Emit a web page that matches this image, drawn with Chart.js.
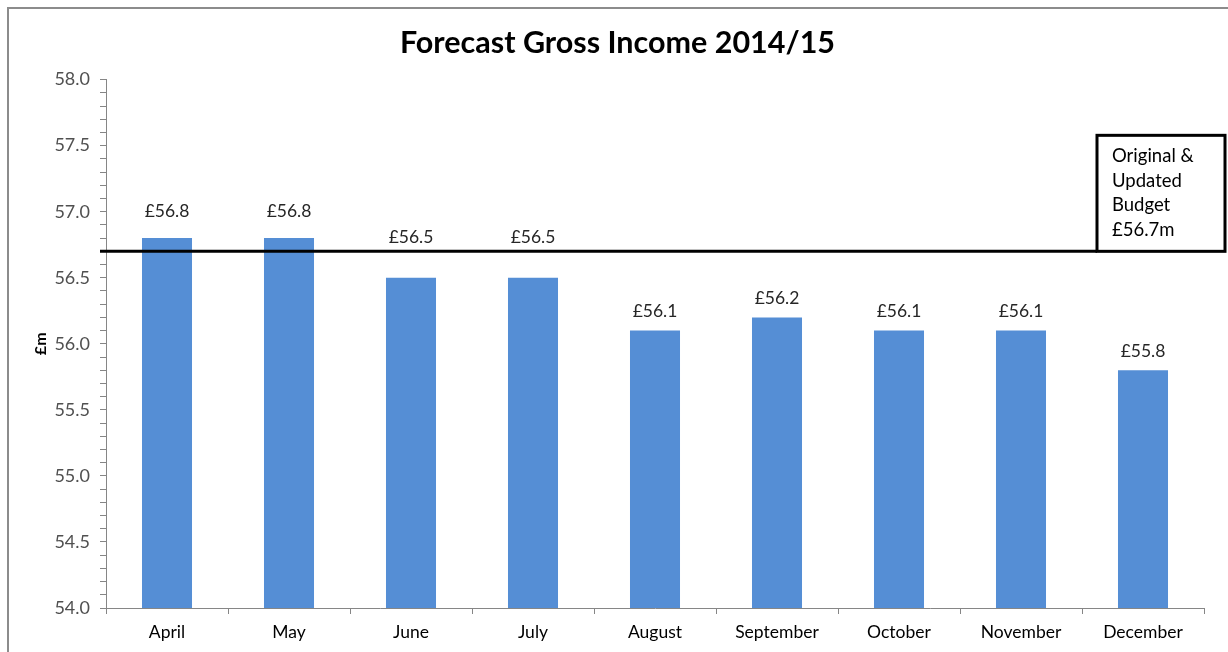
<!DOCTYPE html>
<html>
<head>
<meta charset="utf-8">
<title>Forecast Gross Income 2014/15</title>
<script src="https://cdn.jsdelivr.net/npm/chart.js@4.4.1/dist/chart.umd.min.js"></script>
<style>
  html, body { margin: 0; padding: 0; background: #fff; overflow: hidden; }
  #wrap { width: 1228px; height: 652px; position: relative; }
</style>
</head>
<body>
<div id="wrap"><canvas id="incomeChart" width="1228" height="652"></canvas></div>
<script>
// Chart data
const months = ['April', 'May', 'June', 'July', 'August', 'September', 'October', 'November', 'December'];
const forecast = [56.8, 56.8, 56.5, 56.5, 56.1, 56.2, 56.1, 56.1, 55.8];
const budget = 56.7;
const budgetLabel = ['Original &', 'Updated', 'Budget', '£56.7m'];

const FONT = 'Lato, "Liberation Sans", sans-serif';
const BAR_COLOR = '#558ED5';
const AXIS_COLOR = '#868686';

// Outer frame (the grey border of the original chart object)
const framePlugin = {
    id: 'frame',
    beforeDraw(chart) {
        const ctx = chart.ctx;
        ctx.save();
        ctx.strokeStyle = '#8c8c8c';
        ctx.lineWidth = 2;
        ctx.beginPath();
        ctx.moveTo(8, chart.height);
        ctx.lineTo(8, 8);
        ctx.lineTo(chart.width, 8);
        ctx.stroke();
        ctx.restore();
    }
};

// Value labels above each bar, lifted clear of the budget line where they would touch it
const valueLabels = {
    id: 'valueLabels',
    afterDatasetsDraw(chart) {
        const ctx = chart.ctx;
        const meta = chart.getDatasetMeta(0);
        const lineY = chart.scales.y.getPixelForValue(budget);
        ctx.save();
        ctx.font = '17.5px ' + FONT;
        ctx.fillStyle = '#262626';
        ctx.textAlign = 'center';
        ctx.textBaseline = 'middle';
        meta.data.forEach((bar, i) => {
            let y = bar.y - 19;
            if (bar.y > lineY && bar.y - lineY < 35) {
                y = lineY - 14;
            } else if (bar.y <= lineY && lineY - bar.y < 20) {
                y = bar.y - 27;
            }
            ctx.fillText('£' + forecast[i].toFixed(1), bar.x, y);
        });
        ctx.restore();
    }
};

// Budget line with its boxed label
const budgetLine = {
    id: 'budgetLine',
    afterDraw(chart) {
        const ctx = chart.ctx;
        const area = chart.chartArea;
        const y = chart.scales.y.getPixelForValue(budget);
        const boxLeft = area.right - 107;
        const boxRight = chart.width - 3;
        const boxTop = y - 116;

        ctx.save();
        ctx.strokeStyle = '#000';
        ctx.lineWidth = 3;
        ctx.beginPath();
        ctx.moveTo(area.left - 6, y);
        ctx.lineTo(boxLeft, y);
        ctx.stroke();

        ctx.fillStyle = '#fff';
        ctx.fillRect(boxLeft, boxTop, boxRight - boxLeft, y - boxTop);
        ctx.strokeRect(boxLeft, boxTop, boxRight - boxLeft, y - boxTop);

        ctx.fillStyle = '#000';
        ctx.font = '18.5px ' + FONT;
        ctx.textAlign = 'left';
        ctx.textBaseline = 'middle';
        budgetLabel.forEach((line, i) => {
            ctx.fillText(line, boxLeft + 15, boxTop + 21 + i * 24.5);
        });
        ctx.restore();
    }
};

const ctx = document.getElementById('incomeChart').getContext('2d');
new Chart(ctx, {
    type: 'bar',
    data: {
        labels: months,
        datasets: [{
            label: 'Forecast',
            data: forecast,
            backgroundColor: BAR_COLOR,
            borderWidth: 0,
            barPercentage: 0.41,
            categoryPercentage: 1
        }]
    },
    options: {
        responsive: false,
        animation: false,
        devicePixelRatio: 1,
        layout: { padding: { left: 31, right: 24, top: 0, bottom: 0 } },
        plugins: {
            legend: { display: false },
            tooltip: { enabled: false },
            title: {
                display: true,
                text: 'Forecast Gross Income 2014/15',
                color: '#000',
                font: { family: FONT, size: 30.5, weight: 'bold' },
                padding: { top: 25, bottom: 18 }
            }
        },
        scales: {
            x: {
                offset: true,
                grid: {
                    offset: true,
                    drawOnChartArea: false,
                    tickLength: 6,
                    color: AXIS_COLOR
                },
                border: { color: AXIS_COLOR, width: 1 },
                ticks: {
                    color: '#000',
                    font: { family: FONT, size: 17.5 },
                    padding: 8,
                    maxRotation: 0,
                    autoSkip: false
                },
                afterFit(scale) { scale.height = 44; }
            },
            y: {
                min: 54,
                max: 58,
                grid: {
                    drawOnChartArea: false,
                    tickLength: 6,
                    color: AXIS_COLOR
                },
                border: { color: AXIS_COLOR, width: 1 },
                ticks: {
                    stepSize: 0.1,
                    autoSkip: false,
                    color: '#505050',
                    font: { family: FONT, size: 18 },
                    padding: 10,
                    callback(value) {
                        const v = Math.round(value * 10) / 10;
                        return Math.abs(v * 2 - Math.round(v * 2)) < 1e-6 ? v.toFixed(1) : '';
                    }
                },
                title: {
                    display: true,
                    text: '£m',
                    color: '#000',
                    font: { family: FONT, size: 16, weight: 'bold' },
                    padding: 0
                },
                afterFit(scale) { scale.width = 75; }
            }
        }
    },
    plugins: [framePlugin, valueLabels, budgetLine]
});
</script>
</body>
</html>
